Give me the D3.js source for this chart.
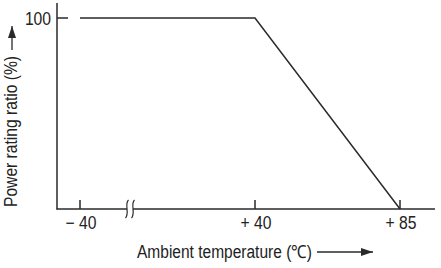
<!DOCTYPE html>
<html>
<head>
<meta charset="utf-8">
<script src="https://cdn.jsdelivr.net/npm/d3@7"></script>
<style>
  body { margin: 0; background: #fff; }
  text { font-family: "Liberation Sans", Arial, sans-serif; fill: #222; }
</style>
</head>
<body>
<svg id="chart" width="441" height="268"></svg>
<script>
// Derating curve: temperature vs power rating ratio
var tempValues = [-40, 40, 85];
var ratioValues = [100, 100, 0];

// Tick labels
var xTicks = [-40, 40, 85];
var xTickLabels = ["\u2212 40", "+ 40", "+ 85"];
var yTicks = [100];

var svg = d3.select('#chart');

// narrow look of the original type
var squeeze = 0.87;
var fontSize = 18;

// Axis is broken between -40 and +40, so use piecewise scale
var x = d3.scaleLinear()
    .domain([-40, 40, 85])
    .range([80, 255, 400]);

var y = d3.scaleLinear()
    .domain([0, 100])
    .range([209, 18]);

var ink = '#2a2a2a';

// y axis line
svg.append('line')
    .attr('x1', 57).attr('x2', 57)
    .attr('y1', 3).attr('y2', 209.5)
    .attr('stroke', ink).attr('stroke-width', 1.5);

// x axis line
svg.append('line')
    .attr('x1', 56.5).attr('x2', 435)
    .attr('y1', 209).attr('y2', 209)
    .attr('stroke', ink).attr('stroke-width', 1.5);

// x ticks (pointing up)
svg.selectAll('.xtick')
    .data(xTicks)
    .enter()
    .append('line')
    .attr('class', 'xtick')
    .attr('x1', function(d) { return x(d); })
    .attr('x2', function(d) { return x(d); })
    .attr('y1', 209).attr('y2', 200)
    .attr('stroke', ink).attr('stroke-width', 1.5);

svg.selectAll('.xlabel')
    .data(xTicks)
    .enter()
    .append('text')
    .attr('class', 'xlabel')
    .attr('transform', function(d) {
        return 'translate(' + (x(d) + 1) + ',229) scale(' + squeeze + ',1)';
    })
    .attr('text-anchor', 'middle')
    .attr('font-size', fontSize)
    .text(function(d, i) { return xTickLabels[i]; });

// y ticks
svg.selectAll('.ytick')
    .data(yTicks)
    .enter()
    .append('line')
    .attr('class', 'ytick')
    .attr('x1', 57).attr('x2', 68)
    .attr('y1', function(d) { return y(d); })
    .attr('y2', function(d) { return y(d); })
    .attr('stroke', ink).attr('stroke-width', 1.5);

svg.selectAll('.ylabel')
    .data(yTicks)
    .enter()
    .append('text')
    .attr('class', 'ylabel')
    .attr('transform', function(d) {
        return 'translate(51,' + (y(d) + 6.5) + ') scale(' + squeeze + ',1)';
    })
    .attr('text-anchor', 'end')
    .attr('font-size', fontSize)
    .text(function(d) { return d; });

// axis break marks
var bx = 130;
svg.append('rect')
    .attr('x', bx - 3).attr('y', 206)
    .attr('width', 6).attr('height', 6)
    .attr('fill', '#fff');
[-3, 3].forEach(function(dx) {
    var cx = bx + dx;
    svg.append('path')
        .attr('d', 'M' + (cx + 1.5) + ',200 C' + (cx - 3) + ',204 ' + (cx + 3) + ',213 ' + (cx - 1.5) + ',218')
        .attr('fill', 'none')
        .attr('stroke', ink)
        .attr('stroke-width', 1.2);
});

// curve
var line = d3.line()
    .x(function(d, i) { return x(tempValues[i]); })
    .y(function(d) { return y(d); });

svg.append('path')
    .datum(ratioValues)
    .attr('d', line)
    .attr('fill', 'none')
    .attr('stroke', ink)
    .attr('stroke-width', 1.5);

// arrow marker
svg.append('defs').append('marker')
    .attr('id', 'arrow')
    .attr('viewBox', '0 0 12 8')
    .attr('refX', 12).attr('refY', 4)
    .attr('markerWidth', 12).attr('markerHeight', 8)
    .attr('markerUnits', 'userSpaceOnUse')
    .attr('orient', 'auto')
    .append('path')
    .attr('d', 'M0,0 L12,4 L0,8 z')
    .attr('fill', ink);

// x axis title, fitted to its width in the original
svg.append('text')
    .attr('x', 137)
    .attr('y', 258)
    .attr('font-size', fontSize)
    .attr('textLength', 175)
    .attr('lengthAdjust', 'spacingAndGlyphs')
    .text('Ambient temperature (\u2103)');

svg.append('line')
    .attr('x1', 317).attr('x2', 373)
    .attr('y1', 252).attr('y2', 252)
    .attr('stroke', ink).attr('stroke-width', 1.3)
    .attr('marker-end', 'url(#arrow)');

// y axis title
svg.append('text')
    .attr('transform', 'translate(17,207) rotate(-90)')
    .attr('font-size', fontSize)
    .attr('textLength', 151)
    .attr('lengthAdjust', 'spacingAndGlyphs')
    .text('Power rating ratio (%)');

svg.append('line')
    .attr('x1', 12).attr('x2', 12)
    .attr('y1', 50).attr('y2', 26)
    .attr('stroke', ink).attr('stroke-width', 1.3)
    .attr('marker-end', 'url(#arrow)');
</script>
</body>
</html>
